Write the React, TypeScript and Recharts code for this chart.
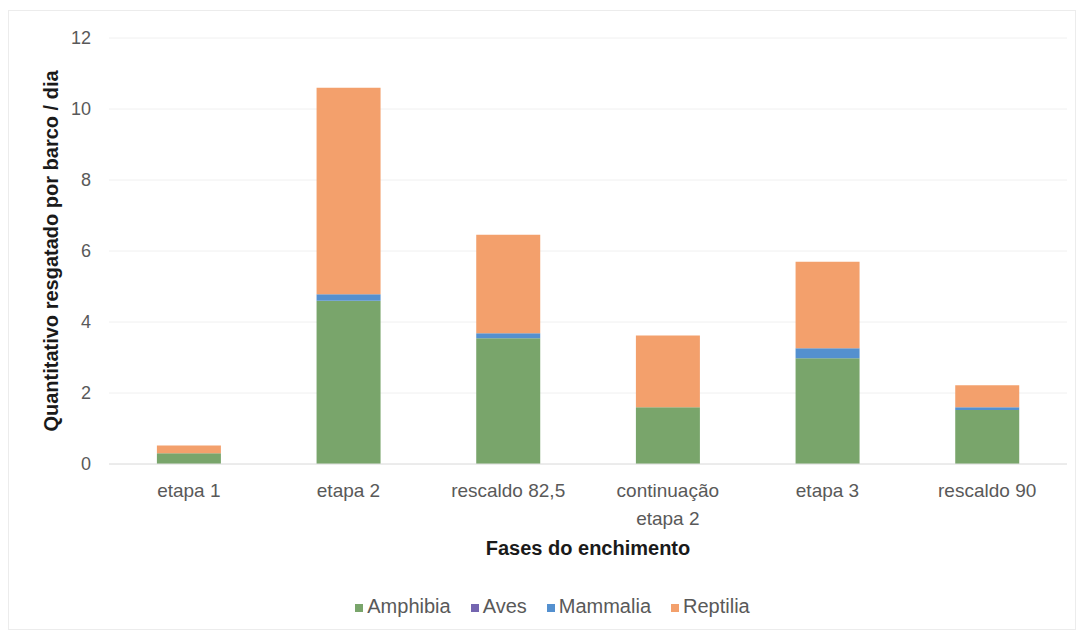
import {
  BarChart,
  Bar,
  XAxis,
  YAxis,
  CartesianGrid,
  Legend,
} from "recharts";

const categories = [
  "etapa 1",
  "etapa 2",
  "rescaldo 82,5",
  "continuação etapa 2",
  "etapa 3",
  "rescaldo 90",
];
const amphibia = [0.3, 4.6, 3.54, 1.6, 2.98, 1.52];
const aves = [0, 0, 0, 0, 0, 0];
const mammalia = [0, 0.18, 0.14, 0, 0.28, 0.08];
const reptilia = [0.22, 5.82, 2.78, 2.02, 2.44, 0.62];
const yTicks = [0, 2, 4, 6, 8, 10, 12];

const data = categories.map((c, i) => ({
  name: c,
  Amphibia: amphibia[i],
  Aves: aves[i],
  Mammalia: mammalia[i],
  Reptilia: reptilia[i],
}));

const font = "'Liberation Sans', Arial, sans-serif";

function CategoryTick({ x, y, payload }: any) {
  const lines: string[] =
    payload.value === "continuação etapa 2" ? ["continuação", "etapa 2"] : [payload.value];
  return (
    <text x={x} y={y} textAnchor="middle" fill="#595959" fontSize={19} fontFamily={font}>
      {lines.map((l, i) => (
        <tspan key={i} x={x} dy={i === 0 ? 25 : 28}>
          {l}
        </tspan>
      ))}
    </text>
  );
}

export default function App() {
  return (
    <div style={{ position: "absolute", left: 0, top: 0, background: "#fff" }}>
      <div style={{ position: "relative", width: 1081, height: 634 }}>
        <div
          style={{
            position: "absolute",
            left: 8,
            top: 10,
            width: 1066,
            height: 618,
            border: "1px solid #ececec",
          }}
        />
        <BarChart
          width={1081}
          height={634}
          data={data}
          margin={{ top: 38, right: 14, bottom: 117, left: 0 }}
          barCategoryGap="30%"
          style={{ fontFamily: font }}
        >
          <CartesianGrid vertical={false} stroke="#f0f0f0" />
          <XAxis
            dataKey="name"
            axisLine={{ stroke: "#e0e0e0" }}
            tickLine={false}
            tick={<CategoryTick />}
            interval={0}
            label={{
              value: "Fases do enchimento",
              position: "insideBottom",
              offset: -61,
              fill: "#1a1a1a",
              fontSize: 20,
              fontWeight: "bold",
              fontFamily: font,
            }}
          />
          <YAxis
            width={109}
            domain={[0, 12]}
            ticks={yTicks}
            axisLine={false}
            tickLine={false}
            tick={{ fill: "#595959", fontSize: 18, fontFamily: font }}
            tickMargin={12}
            label={{
              value: "Quantitativo resgatado por barco / dia",
              angle: -90,
              position: "insideLeft",
              offset: 51,
              style: { textAnchor: "middle" },
              fill: "#1a1a1a",
              fontSize: 20,
              fontWeight: "bold",
              fontFamily: font,
            }}
          />
          <Legend
            verticalAlign="bottom"
            align="center"
            iconType="square"
            iconSize={8}
            wrapperStyle={{ bottom: 16, left: 22, width: 1081, fontSize: 20, fontFamily: font }}
            formatter={(v: string) => (
              <span style={{ color: "#595959", marginRight: 10 }}>{v}</span>
            )}
          />
          <Bar dataKey="Amphibia" stackId="a" fill="#79a56b" isAnimationActive={false} />
          <Bar dataKey="Aves" stackId="a" fill="#7465b0" isAnimationActive={false} />
          <Bar dataKey="Mammalia" stackId="a" fill="#5490cf" isAnimationActive={false} />
          <Bar dataKey="Reptilia" stackId="a" fill="#f3a06c" isAnimationActive={false} />
        </BarChart>
      </div>
    </div>
  );
}
